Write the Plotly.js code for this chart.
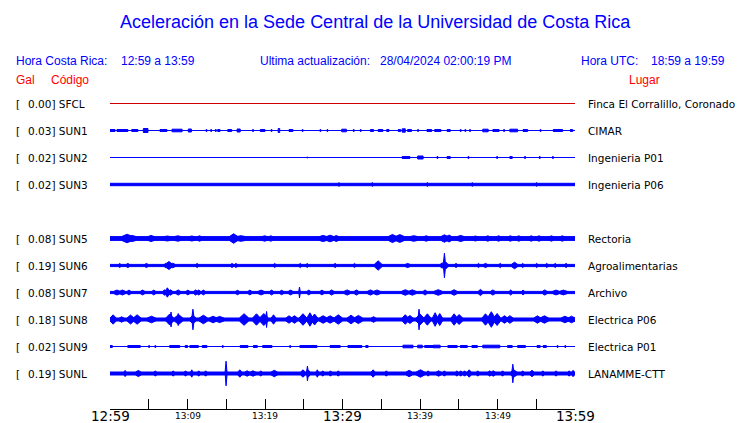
<!DOCTYPE html>
<html>
<head>
<meta charset="utf-8">
<script src="https://cdn.plot.ly/plotly-3.0.1.min.js"></script>
<style>html,body{margin:0;padding:0;background:#fff;}#chart{width:740px;height:423px;}</style>
</head>
<body>
<div id="chart"></div>
<script>
// ---------------- DATA ----------------
const codes = ['SFCL','SUN1','SUN2','SUN3','SUN5','SUN6','SUN7','SUN8','SUN9','SUNL'];
const gal = ['0.00','0.03','0.02','0.02','0.08','0.19','0.08','0.18','0.02','0.19'];
const places = ['Finca El Corralillo, Coronado','CIMAR','Ingenieria P01','Ingenieria P06','Rectoria','Agroalimentarias','Archivo','Electrica P06','Electrica P01','LANAMME-CTT'];
// background (noise) half-amplitude of each trace, display units
const baseAmp = [0, 0.5, 0.5, 1.7, 2.4, 1.6, 1.6, 2.0, 0.5, 2.0];
// bursts: [start minute, end minute, peak half-amplitude]; minutes after 12:59
const SFCL_bursts = [];
const SUN1_bursts = [[0,0.65,1.5],[0.9,2.3,1.5],[2.8,3.6,1.5],[4.3,4.9,2.5],[6.45,7.35,1.5],[8.0,9.3,1.8],[10.1,10.5,2],[12.4,12.5,1.5],[13.0,13.1,1.5],[13.6,13.7,1.5],[13.9,14.2,1.5],[15.2,15.7,1.5],[16.4,16.8,2],[18.4,18.5,1.5],[19.4,20.0,1.5],[20.8,20.9,1.5],[21.7,21.9,2.5],[23.1,23.6,1.5],[24.8,24.9,1.5],[27.1,27.2,1.5],[28.0,28.1,1.5],[29.9,30.5,1.8],[31.4,31.5,1.5],[32.3,32.4,1.5],[33.6,34.0,1.5],[34.6,35.2,1.5],[35.7,36.0,1.5],[37.2,37.5,1.5],[37.7,38.1,2.2],[38.4,38.9,1.5],[39.7,39.8,1.5],[40.9,41.5,1.5],[41.9,42.7,1.5],[43.5,43.9,1.5],[45.2,45.3,1.5],[45.8,45.9,1.5],[46.4,46.5,1.5],[48.1,48.8,1.8],[49.4,50.2,1.5],[50.8,50.9,1.5],[51.6,52.6,1.8],[53.3,53.9,1.5],[55.5,55.6,1.5],[57.2,58.4,1.5],[59.4,59.7,1.5]];
const SUN2_bursts = [[25.4,25.5,1],[37.7,38.7,1.5],[39.7,40.4,2],[42.2,42.3,1.5],[43.5,43.9,1.5],[46.2,46.3,1.5],[49.9,50.0,1.5],[51.6,51.9,1.5],[53.5,53.6,1.5],[55.4,55.5,1.5],[57.1,57.2,1.5]];
const SUN3_bursts = [[29.5,29.6,2.2],[33.8,33.9,2.2],[40.9,41.0,2.2],[46.7,46.8,2.2],[55.0,55.1,2.2]];
const SUN5_bursts = [[1.5,2.9,4.8],[2.3,3.4,3.5],[4.9,5.7,3.6],[7.0,7.8,3],[8.3,9.2,3.2],[10.2,10.9,3],[11.3,11.8,3.2],[15.4,16.5,5.3],[16.3,17.5,3.3],[19.6,20.3,3.2],[20.5,21.0,3.2],[27.0,28.0,3.6],[27.9,28.9,3.8],[28.9,29.5,3.5],[35.9,37.0,4.6],[36.8,38.0,4.4],[38.7,39.7,3.3],[40.5,41.1,3.2],[42.7,43.6,4.2],[43.4,44.1,4],[44.8,45.7,3.6],[46.9,47.4,3],[48.5,49.0,3.2],[49.9,50.4,3.2],[51.4,51.9,3.2],[52.5,53.0,3.2],[54.1,54.6,3.2],[55.1,55.6,3.2],[56.7,57.2,3.2],[58.1,58.6,3.2]];
const SUN6_bursts = [[1.1,1.4,2.6],[2.1,2.5,2.6],[4.5,4.9,2.6],[7.0,7.3,2.6],[7.1,8.1,4.5],[7.8,8.4,2.8],[11.1,11.4,2.6],[15.6,15.9,2.6],[16.1,16.4,2.6],[21.1,21.4,2.6],[24.4,24.7,2.6],[25.3,25.6,2.4],[28.9,29.2,2.6],[31.4,31.7,2.6],[34.1,35.1,5.2],[38.1,38.7,2.6],[42.6,43.1,3.2],[43.0,43.3,12.8],[43.2,43.6,3.6],[44.5,44.8,2.6],[47.4,47.7,2.6],[48.2,48.7,2.6],[50.2,50.5,2.6],[51.8,52.6,3.8],[53.1,53.4,2.6],[54.9,55.2,2.6],[56.2,56.5,2.6],[57.3,57.6,2.6],[58.7,59.0,2.6]];
const SUN7_bursts = [[0.5,1.3,3],[1.2,2.0,3],[2.2,2.7,3],[3.9,4.5,2.9],[5.4,5.9,2.9],[6.8,7.3,3.2],[7.1,7.7,5.2],[7.5,8.1,3.2],[8.5,9.1,3.1],[9.8,10.3,2.9],[10.8,11.3,3.1],[11.2,11.7,3],[11.8,12.3,2.9],[16.2,16.7,2.7],[17.8,18.3,2.9],[19.1,19.9,2.9],[20.6,21.1,2.9],[21.9,22.4,2.7],[23.0,23.6,2.9],[24.35,24.55,6],[25.4,25.9,2.9],[27.1,27.6,2.9],[28.3,28.9,3.1],[30.2,31.0,3.1],[31.5,32.1,3.1],[33.2,34.0,3.1],[34.0,34.9,3],[37.6,38.6,3.3],[38.5,39.5,3.2],[40.4,40.9,3.1],[41.8,42.9,3.3],[44.0,44.8,3.3],[47.5,48.1,3.6],[49.1,49.7,3.1],[51.5,51.9,3.1],[53.1,53.5,2.9],[55.8,56.4,3.1],[57.1,58.0,2.9],[58.0,59.0,2.9]];
const SUN8_bursts = [[0,0.8,5.2],[1.2,1.8,3.2],[2.2,3.1,5],[3.0,4.0,5.2],[4.8,5.9,3.8],[7.2,8.2,6],[7.75,8.0,8],[8.3,9.4,5.5],[8.7,8.9,6.5],[10.55,10.85,10.8],[10.3,11.1,4.5],[11.5,12.6,4.8],[12.8,13.8,3.8],[13.6,14.7,3.6],[16.7,17.9,6.3],[18.4,19.4,6.2],[19.3,20.4,6.5],[20.1,20.3,8.5],[20.8,21.4,5.2],[22.7,23.5,4.2],[23.4,24.2,4.3],[24.4,25.4,6.3],[25.4,26.2,7.2],[26.0,26.8,6],[27.0,28.0,4.3],[27.9,28.9,4.2],[28.9,30.0,5.2],[30.6,31.6,4.8],[31.5,32.6,4.6],[33.7,34.3,3.3],[37.7,38.5,5.3],[38.3,39.1,4.5],[39.75,40.0,10.8],[39.5,40.5,6],[40.5,41.4,6.2],[41.6,42.3,7.3],[42.2,42.9,6.5],[44.0,44.8,6.2],[44.6,45.5,5.5],[48.0,48.9,6.2],[48.7,49.7,8.3],[49.5,50.4,6.5],[50.5,51.3,4.3],[51.2,52.0,4.3],[54.7,55.6,4.2],[55.5,56.6,4.2],[58.2,59.2,3.8],[59.1,60,3.8]];
const SUN9_bursts = [[0,0.3,1.5],[2.3,3.9,1.5],[5.0,5.1,1.5],[5.8,5.9,1.5],[7.7,9.0,1.5],[9.7,10.0,1.5],[10.3,11.4,1.5],[11.9,12.5,1.5],[14.5,14.6,1.5],[16.8,17.8,1.5],[18.5,19.0,1.5],[19.7,20.9,1.5],[23.2,23.3,1.5],[24.5,26.7,1.5],[28.4,29.7,1.5],[30.7,32.5,1.5],[33.0,33.3,1.5],[37.8,39.1,1.8],[39.7,40.3,1.8],[40.6,41.7,1.5],[41.7,42.6,1.8],[43.6,44.8,1.5],[45.2,46.1,1.5],[46.7,47.4,1.5],[48.1,50.3,1.8],[51.3,51.9,1.5],[52.6,53.6,1.5],[55.1,55.5,1.5],[55.9,56.3,1.5],[57.7,57.8,1.5],[58.7,58.8,1.5]];
const SUNL_bursts = [[1.8,2.1,3.6],[3.3,4.0,3.6],[5.7,6.0,3.2],[8.0,8.3,3.2],[9.6,9.9,3.2],[10.4,10.7,4.2],[11.3,11.6,3.2],[12.2,12.5,3.2],[14.85,15.1,12.8],[16.5,17.0,4.2],[17.4,18.0,3.2],[18.1,18.8,3.2],[19.3,19.6,3.2],[20.8,21.6,3.7],[24.6,25.2,4.2],[25.35,25.6,7.8],[25.4,25.8,4],[26.6,26.9,4.2],[27.3,27.6,3.2],[28.3,28.6,3.2],[29.3,29.6,3.2],[33.7,34.2,4.2],[35.5,35.8,3.2],[38.2,39.0,3.7],[39.5,40.6,4.2],[40.9,41.2,3.2],[42.1,42.7,3.2],[43.0,43.3,3.2],[44.6,44.9,3.2],[45.1,45.4,3.2],[45.6,45.9,3.2],[46.1,46.6,4.2],[47.3,47.6,3.2],[48.8,49.2,3.2],[49.2,49.7,3.2],[50.5,50.8,3.2],[51.7,52.5,4.2],[51.85,52.1,9.8],[53.1,53.4,3.2],[54.2,54.7,3.7],[55.7,56.0,3.2],[57.4,57.7,3.2],[59.1,59.4,3.2],[59.6,59.9,3.7]];
const allBursts = [SFCL_bursts,SUN1_bursts,SUN2_bursts,SUN3_bursts,SUN5_bursts,SUN6_bursts,SUN7_bursts,SUN8_bursts,SUN9_bursts,SUNL_bursts];
const tickVals = [0,10,20,30,40,50,60];
const tickText = ['12:59','13:09','13:19','13:29','13:39','13:49','13:59'];
const tickBig = [true,false,false,true,false,false,true];

// ---------------- LAYOUT / STYLE ----------------
const L=110, R=575, T=90, B=409;
const rowSlot = [0,1,2,3,5,6,7,8,9,10];   // SUN4 slot left empty
const burstStyle = ['rect','rect','rect','rect','spindle','spindle','spindle','spindle','rect','spindle'];
const rowY = i => 13.5 + 27*rowSlot[i];   // axis units = pixels from plot top
const px = x => (x-L)/(R-L);
const py = y => (B-y)/(B-T);

const traces = [];
codes.forEach((c,i)=>{
  const v = rowY(i);
  const xs=[], ys=[];
  const hb = Math.max(baseAmp[i]-0.5,0);
  const rect=(t0,t1,a)=>{
    const h=Math.max(a-0.5,0);
    xs.push(t0,t1,t1,t0,t0,null);
    ys.push(v-h,v-h,v+h,v+h,v-h,null);
  };
  const spindle=(t0,t1,a)=>{
    const h=Math.max(a-0.5,0), tm=(t0+t1)/2;
    xs.push(t0,tm,t1,t1,tm,t0,t0,null);
    ys.push(v-hb,v-h,v-hb,v+hb,v+h,v+hb,v-hb,null);
  };
  rect(0,60,baseAmp[i]);
  allBursts[i].forEach(b=> burstStyle[i]==='rect' ? rect(b[0],b[1],b[2]) : spindle(b[0],b[1],b[2]));
  const col = i===0 ? '#cc0000' : '#0000ff';
  traces.push({type:'scatter',mode:'lines',x:xs,y:ys,fill:'toself',fillcolor:col,
    line:{color:col,width:1},hoverinfo:'skip',showlegend:false,connectgaps:false});
});

const blue='#0000ff', red='#ff0000';
const ann=[];
function A(text,x,y,font,anchor){
  ann.push({text:text,xref:'paper',yref:'paper',x:px(x),y:py(y),xanchor:anchor||'left',yanchor:'middle',
    showarrow:false,borderpad:0,font:font});
}
const fHead={family:'Liberation Sans, Arial, sans-serif',size:12,color:blue};
const fRed={family:'Liberation Sans, Arial, sans-serif',size:12,color:red};
const fLab={family:'DejaVu Sans, sans-serif',size:10.5,color:'#000'};
A('Aceleración en la Sede Central de la Universidad de Costa Rica',375,22,{family:'Liberation Sans, Arial, sans-serif',size:18,color:blue},'center');
A('Hora Costa Rica:',15,61,fHead);
A('12:59 a 13:59',120,61,fHead);
A('Ultima actualización:',259,61,fHead);
A('28/04/2024 02:00:19 PM',379,61,fHead);
A('Hora UTC:',580,61,fHead);
A('18:59 a 19:59',650,61,fHead);
A('Gal',15,80,fRed);
A('Código',50,80,fRed);
A('Lugar',628,80,fRed);
codes.forEach((c,i)=>{
  const y = T + rowY(i);
  A('[',15,y,fLab);
  A(gal[i]+'] '+c,27,y,fLab);
  A(places[i],587,y,fLab);
});
tickVals.forEach((t,k)=>{
  ann.push({text:tickText[k],xref:'x',yref:'paper',x:t,y:py(tickBig[k]?415.5:415.5),xanchor:'center',yanchor:'middle',
    showarrow:false,borderpad:0,font:{family:'DejaVu Sans, sans-serif',size:tickBig[k]?13.5:9,color:'#000'}});
});

const layout={
  width:740,height:423,margin:{l:L,r:740-R,t:T,b:423-B,pad:0},
  paper_bgcolor:'#fff',plot_bgcolor:'#fff',showlegend:false,
  xaxis:{range:[0,60],showgrid:false,zeroline:false,showline:true,linecolor:'#000',linewidth:1,
    ticks:'inside',ticklen:10,tickwidth:1,tickcolor:'#000',tick0:0,dtick:5,showticklabels:false,fixedrange:true},
  yaxis:{range:[B-T,0],visible:false,showgrid:false,zeroline:false,fixedrange:true},
  annotations:ann
};
Plotly.newPlot('chart',traces,layout,{staticPlot:true,displayModeBar:false});
</script>
</body>
</html>
